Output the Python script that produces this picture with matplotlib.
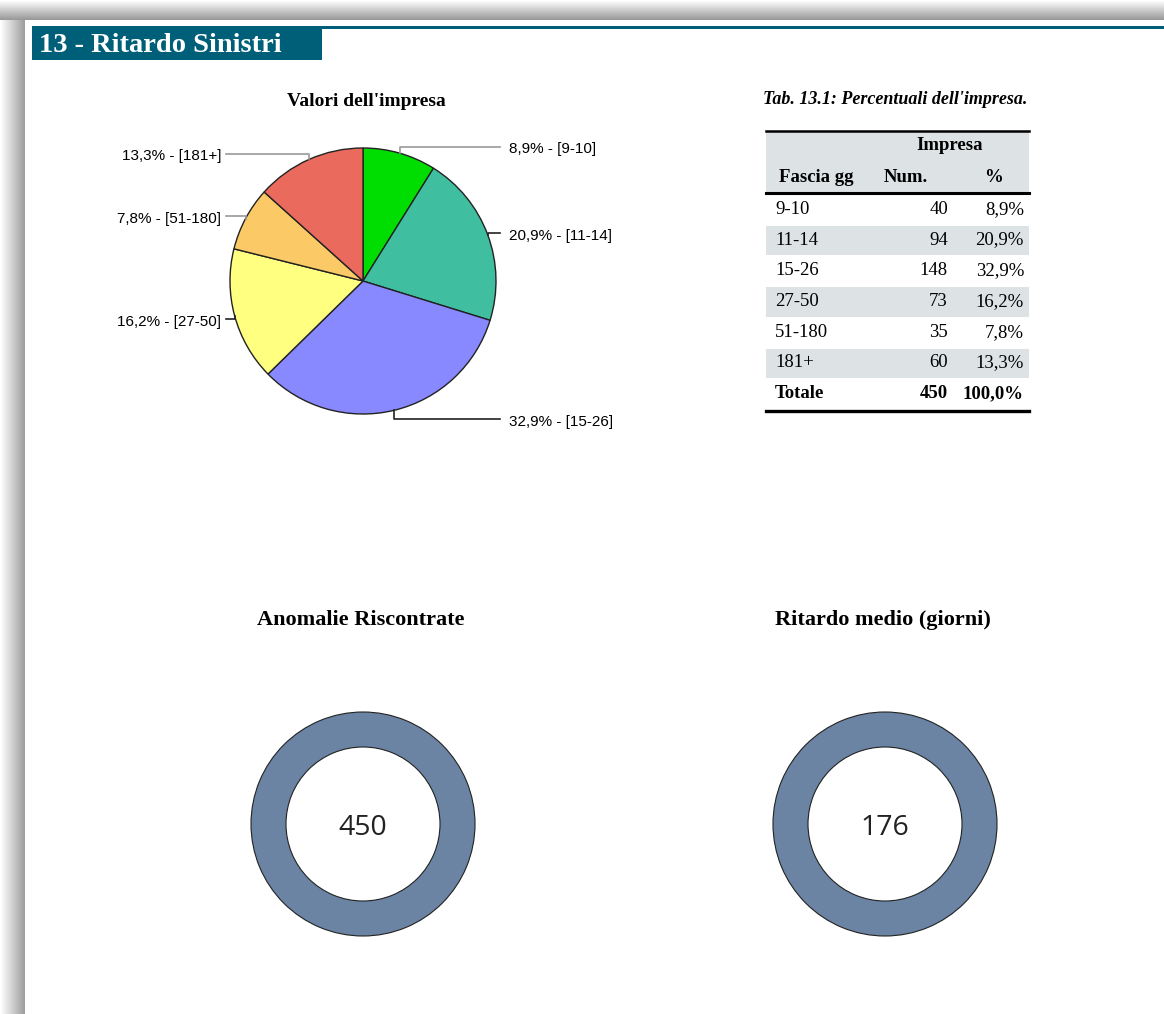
import numpy as np
import matplotlib.pyplot as plt
from matplotlib.patches import Rectangle

# data
fasce = ["9-10", "11-14", "15-26", "27-50", "51-180", "181+"]
numeri = [40, 94, 148, 73, 35, 60]
percentuali = ["8,9%", "20,9%", "32,9%", "16,2%", "7,8%", "13,3%"]
totale_num = 450
totale_pct = "100,0%"
anomalie = 450
ritardo_medio = 176

slice_colors = ["#00dd00", "#40bfa0", "#8888ff", "#ffff80", "#fbc965", "#ea6b5e"]
teal = "#005f78"
ring = "#6b84a4"
shade = "#dde3e5"

W, H = 1164, 1014
fig = plt.figure(figsize=(W / 100, H / 100), dpi=100)

bg = fig.add_axes([0, 0, 1, 1])
bg.set_xlim(0, W)
bg.set_ylim(H, 0)
bg.axis("off")

# page shadow
top = np.linspace(1.0, 0.6, 20)[:, None] * np.ones((1, 50))
bg.imshow(top, cmap="gray", vmin=0, vmax=1, extent=[0, W, 20, 0], aspect="auto")
left = np.ones((50, 1)) * np.linspace(1.0, 0.62, 25)[None, :]
bg.imshow(left, cmap="gray", vmin=0, vmax=1, extent=[0, 25, H, 20], aspect="auto")
bg.set_xlim(0, W)
bg.set_ylim(H, 0)

# header
bg.add_patch(Rectangle((32, 26), W - 32, 3, color=teal, lw=0))
bg.add_patch(Rectangle((32, 29), 290, 31, color=teal, lw=0))
bg.text(39, 45, "13 - Ritardo Sinistri", color="white", fontsize=20.5,
        fontweight="bold", family="Liberation Serif", va="center")

serif = "Liberation Serif"
fs = 13.5

# table
bg.text(895, 100, "Tab. 13.1: Percentuali dell'impresa.", fontsize=13,
        family=serif, style="italic", fontweight="bold", ha="center", va="center")
tx0, tx1 = 766, 1029
bg.add_patch(Rectangle((tx0, 131), tx1 - tx0, 62, color=shade, lw=0))
bg.plot([tx0, tx1], [131, 131], color="black", lw=1.8)
bg.plot([tx0, tx1], [193, 193], color="black", lw=2.2)
bg.text(950, 146, "Impresa", family=serif, fontweight="bold", fontsize=fs, ha="center", va="center")
bg.text(779, 177, "Fascia gg", family=serif, fontweight="bold", fontsize=fs, va="center")
bg.text(906, 177, "Num.", family=serif, fontweight="bold", fontsize=fs, ha="center", va="center")
bg.text(993, 177, "%", family=serif, fontweight="bold", fontsize=fs, ha="center", va="center")
row_h = 30.7
for i, (f, n, p) in enumerate(zip(fasce, numeri, percentuali)):
    y0 = 195 + i * row_h
    if i % 2 == 1:
        bg.add_patch(Rectangle((tx0, y0), tx1 - tx0, row_h - 1, color=shade, lw=0))
    yc = y0 + row_h / 2 - 1
    bg.text(775, yc, f, family=serif, fontsize=fs, va="center")
    bg.text(948, yc, str(n), family=serif, fontsize=fs, ha="right", va="center")
    bg.text(1024, yc, p, family=serif, fontsize=fs, ha="right", va="center")
yc = 195 + 6 * row_h + row_h / 2 - 1
bg.text(775, yc, "Totale", family=serif, fontsize=fs, fontweight="bold", va="center")
bg.text(948, yc, str(totale_num), family=serif, fontsize=fs, fontweight="bold", ha="right", va="center")
bg.text(1024, yc, totale_pct, family=serif, fontsize=fs, fontweight="bold", ha="right", va="center")
bg.plot([tx0, tx1], [411, 411], color="black", lw=2.4)

# titles
bg.text(366, 102, "Valori dell'impresa", family=serif, fontweight="bold", fontsize=14,
        ha="center", va="center")
bg.text(361, 620, "Anomalie Riscontrate", family=serif, fontweight="bold", fontsize=16,
        ha="center", va="center")
bg.text(883, 620, "Ritardo medio (giorni)", family=serif, fontweight="bold", fontsize=16,
        ha="center", va="center")


def sq_axes(cx, cy, half):
    ax = fig.add_axes([(cx - half) / W, 1 - (cy + half) / H, 2 * half / W, 2 * half / H])
    ax.axis("off")
    return ax


# pie
pax = sq_axes(363, 281, 266)
wedges, _ = pax.pie(numeri, colors=slice_colors, startangle=90, counterclock=False,
                    wedgeprops=dict(edgecolor="#222222", linewidth=1))
pax.set_xlim(-2, 2)
pax.set_ylim(-2, 2)
for w, lab, p in zip(wedges, fasce, percentuali):
    ang = np.deg2rad((w.theta1 + w.theta2) / 2)
    x0, y0 = np.cos(ang), np.sin(ang)
    ylab = y0 * 1.06 - 0.01
    side = 1 if x0 > 0 else -1
    xend = 1.03 * side
    col = "#999999" if y0 > 0.4 else "#222222"
    pax.plot([x0, x0, xend], [y0, ylab, ylab], color=col, lw=1.2)
    pax.text(xend + (0.07 if side > 0 else 0.035) * side, ylab - 0.02,
             p + " - [" + lab + "]", family="Liberation Sans",
             fontsize=11, ha="left" if side > 0 else "right", va="center")

# donuts
for cx, val in [(363, anomalie), (885, ritardo_medio)]:
    dax = sq_axes(cx, 824, 120)
    dax.pie([1], colors=[ring], radius=1,
            wedgeprops=dict(width=35 / 112, edgecolor="#222222", linewidth=0.8))
    dax.set_xlim(-120 / 112, 120 / 112)
    dax.set_ylim(-120 / 112, 120 / 112)
    dax.text(0, -0.04, str(val), family="Open Sans", fontsize=20.5, ha="center", va="center",
             color="#222222")

fig.savefig("out.png", dpi=100)
